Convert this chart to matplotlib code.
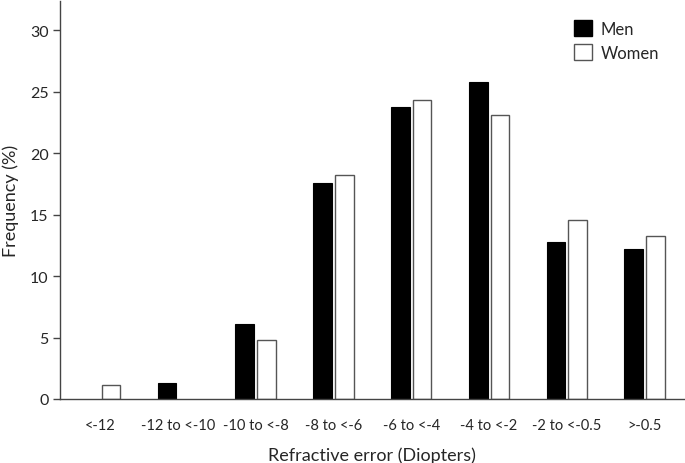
import numpy as np
import matplotlib.pyplot as plt
from matplotlib.patches import Patch

# data
categories = ['<-12', '-12 to <-10', '-10 to <-8', '-8 to <-6',
              '-6 to <-4', '-4 to <-2', '-2 to <-0.5', '>-0.5']
men = [0.0, 1.3, 6.1, 17.6, 23.8, 25.8, 12.8, 12.2]
women = [1.1, 0.0, 4.8, 18.2, 24.3, 23.1, 14.6, 13.3]

txt = '#262626'
plt.rcParams['font.family'] = ['Lato', 'DejaVu Sans']
plt.rcParams['text.color'] = txt

fig = plt.figure(figsize=(6.85, 4.64), dpi=100)
ax = fig.add_axes([0.088, 0.138, 0.91, 0.858])

x = np.arange(len(categories))
w = 0.24
men_bars = ax.bar(x - 0.14, men, w, color='black', edgecolor='black', linewidth=0.8)
women_bars = ax.bar(x + 0.14, women, w, color='white', edgecolor='#555555', linewidth=1.0)
# hide zero-height bars
for b in list(men_bars) + list(women_bars):
    if b.get_height() == 0:
        b.set_visible(False)

ax.set_xlim(-0.51, 7.5)
ax.set_ylim(0, 32.4)
ax.set_yticks([0, 5, 10, 15, 20, 25, 30])
ax.set_xticks(x)
ax.set_xticklabels(categories)
ax.tick_params(axis='x', length=0, pad=14, labelsize=10.5, colors=txt)
ax.tick_params(axis='y', length=5, width=1, direction='out', labelsize=11.5,
               colors=txt, color='#444444')

for s in ['top', 'right']:
    ax.spines[s].set_visible(False)
for s in ['left', 'bottom']:
    ax.spines[s].set_color('#444444')
    ax.spines[s].set_linewidth(1.0)

ax.set_xlabel('Refractive error (Diopters)', fontsize=13, labelpad=10, color=txt)
ax.set_ylabel('Frequency (%)', fontsize=13, labelpad=8, color=txt)

handles = [Patch(facecolor='black', edgecolor='black', label='Men'),
           Patch(facecolor='white', edgecolor='#555555', label='Women')]
ax.legend(handles=handles, loc='upper right', bbox_to_anchor=(0.985, 0.99), frameon=False,
          fontsize=12, handlelength=1.1, handleheight=1.1, handletextpad=0.5,
          labelspacing=0.45)

plt.savefig('out.png', dpi=100)
